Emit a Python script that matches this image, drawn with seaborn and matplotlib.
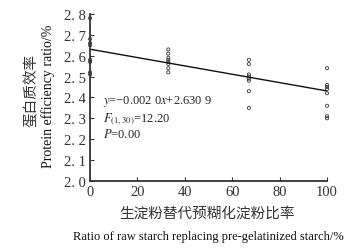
import numpy as np
import pandas as pd
import seaborn as sns
import matplotlib.pyplot as plt

sns.set_theme(style="white")
plt.rcParams['font.family'] = ['Liberation Serif', 'Noto Sans CJK SC']
plt.rcParams['mathtext.fontset'] = 'stix'

# replacement ratio (%) and protein efficiency ratio, 8 fish per group
ratio = [0] * 8 + [33] * 8 + [67] * 8 + [100] * 8
per = [2.78, 2.68, 2.66, 2.65, 2.58, 2.57, 2.52, 2.51,
       2.63, 2.61, 2.59, 2.58, 2.57, 2.56, 2.54, 2.52,
       2.58, 2.56, 2.51, 2.50, 2.49, 2.48, 2.43, 2.35,
       2.54, 2.46, 2.45, 2.44, 2.42, 2.36, 2.31, 2.30]

# fitted line
slope = -0.0020
intercept = 2.6309
line_x = [0, 100]

df = pd.DataFrame({"ratio": ratio, "per": per})
fit = pd.DataFrame({"x": line_x, "y": [intercept + slope * v for v in line_x]})

fig = plt.figure(figsize=(3.59, 2.53), dpi=100)
ax = fig.add_axes([0.251, 0.281, 0.66, 0.66])

sns.scatterplot(data=df, x="ratio", y="per", ax=ax, marker="o", s=5,
                facecolor="none", edgecolor="#333333", linewidth=0.6, clip_on=False)
sns.lineplot(data=fit, x="x", y="y", ax=ax, color="#111111", linewidth=1.0)

ax.set_xlim(0, 100)
ax.set_ylim(2.0, 2.8)
ax.set_xticks([0, 20, 40, 60, 80, 100])
ax.set_yticks(np.arange(2.0, 2.81, 0.1))
ax.set_yticklabels([f"{v:.1f}".replace(".", ". ") for v in np.arange(2.0, 2.81, 0.1)])
ax.tick_params(axis="both", direction="in", length=3, width=0.8, color="#333333",
               labelsize=10.5, labelcolor="#333333", pad=3)
ax.tick_params(axis="y", left=True)
ax.tick_params(axis="x", bottom=True)

for s in ["top", "right"]:
    ax.spines[s].set_visible(False)
for s in ["left", "bottom"]:
    ax.spines[s].set_color("#333333")
    ax.spines[s].set_linewidth(1.3)

ax.set_xlabel("")
ax.set_ylabel("")

ax.text(0.055, 0.479, r"$y$=−0.002 0$x$+2.630 9", transform=ax.transAxes,
        fontsize=9, va="center")
ax.text(0.055, 0.377, r"$F_{(1,30)}$=12.20", transform=ax.transAxes,
        fontsize=9, va="center")
ax.text(0.055, 0.285, r"$P$=0.00", transform=ax.transAxes, fontsize=9, va="center")

fig.text(0.089, 0.644, "蛋白质效率", rotation=90, ha="center", va="center",
         fontsize=10.5, family=['Noto Sans CJK SC'], color="#333333")
fig.text(0.134, 0.62, "Protein efficiency ratio/%", rotation=90, ha="center", va="center",
         fontsize=10, color="#111111")
fig.text(0.575, 0.155, "生淀粉替代预糊化淀粉比率", ha="center", va="center",
         fontsize=10.5, family=['Noto Sans CJK SC'], color="#333333")
fig.text(0.58, 0.065, "Ratio of raw starch replacing pre-gelatinized starch/%", ha="center",
         va="center", fontsize=9, color="#111111")

fig.savefig("out.png", dpi=100)
